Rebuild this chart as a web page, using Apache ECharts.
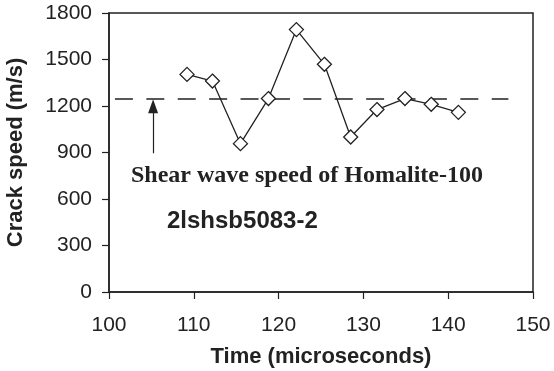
<!DOCTYPE html>
<html>
<head>
<meta charset="utf-8">
<script src="https://cdn.jsdelivr.net/npm/echarts@6/dist/echarts.min.js"></script>
<style>
html,body{margin:0;padding:0;background:#fff;}
#c{width:554px;height:371px;}
</style>
</head>
<body>
<div id="c"></div>
<script>
// Data
const timeUs = [109.2, 112.2, 115.5, 118.8, 122.1, 125.4, 128.5, 131.6, 134.9, 138.0, 141.2];
const crackSpeed = [1404, 1361, 957, 1248, 1693, 1469, 1000, 1177, 1248, 1211, 1159];
const shearSpeed = 1245;
const shearLineRange = [100.7, 147.1];
const arrowX = 105.2;
const arrowFrom = 895;
const arrowHeadCentre = 1198;
const xTicks = [100, 110, 120, 130, 140, 150];
const yTicks = [0, 300, 600, 900, 1200, 1500, 1800];
const annotation1 = 'Shear wave speed of Homalite-100';
const annotation2 = '2lshsb5083-2';
const xTitle = 'Time (microseconds)';
const yTitle = 'Crack speed (m/s)';

const ink = '#222';
const chart = echarts.init(document.getElementById('c'), null, {renderer: 'canvas'});
chart.setOption({
  animation: false,
  backgroundColor: '#fff',
  grid: {left: 109, right: 21, top: 13, bottom: 79, containLabel: false, outerBoundsMode: 'none',
         show: true, borderColor: ink, borderWidth: 1.5, backgroundColor: 'transparent'},
  xAxis: {
    type: 'value', min: xTicks[0], max: xTicks[xTicks.length - 1], interval: 10,
    name: xTitle, nameLocation: 'middle', nameGap: 54,
    nameTextStyle: {fontFamily: 'Liberation Sans', fontWeight: 'bold', fontSize: 22, color: ink},
    axisLine: {show: true, lineStyle: {color: ink, width: 1.5}},
    axisTick: {show: true, length: 7, lineStyle: {color: ink, width: 1.2}},
    axisLabel: {margin: 23, fontFamily: 'Liberation Sans', fontSize: 21, color: ink, formatter: v => String(v)},
    splitLine: {show: false}
  },
  yAxis: {
    type: 'value', min: yTicks[0], max: yTicks[yTicks.length - 1], interval: 300,
    name: yTitle, nameLocation: 'middle', nameGap: 82,
    nameTextStyle: {fontFamily: 'Liberation Sans', fontWeight: 'bold', fontSize: 22, color: ink},
    axisLine: {show: true, lineStyle: {color: ink, width: 1.5}},
    axisTick: {show: true, length: 7, lineStyle: {color: ink, width: 1.2}},
    axisLabel: {margin: 17, fontFamily: 'Liberation Sans', fontSize: 21, color: ink, formatter: v => String(v)},
    splitLine: {show: false}
  },
  series: [
    {
      type: 'line', silent: true,
      data: [[shearLineRange[0], shearSpeed], [shearLineRange[1], shearSpeed]],
      symbol: 'none',
      lineStyle: {color: ink, width: 1.5, type: [18, 13.4]},
      markLine: {
        silent: true, symbol: ['none', 'triangle'], symbolSize: [10, 14],
        lineStyle: {color: ink, width: 1.2, type: 'solid'},
        label: {show: false},
        data: [[{coord: [arrowX, arrowFrom]}, {coord: [arrowX, arrowHeadCentre]}]]
      }
    },
    {
      type: 'line',
      data: timeUs.map((t, i) => [t, crackSpeed[i]]),
      symbol: 'diamond', symbolSize: 14,
      lineStyle: {color: ink, width: 1.3},
      itemStyle: {color: '#fff', borderColor: ink, borderWidth: 1.3}
    }
  ],
  graphic: [
    {type: 'text', left: 131, top: 164, style: {text: annotation1, font: 'bold 24px "Liberation Serif"', fill: ink}},
    {type: 'text', left: 167, top: 209, style: {text: annotation2, font: 'bold 24px "Liberation Sans"', fill: ink}}
  ]
});
</script>
</body>
</html>
